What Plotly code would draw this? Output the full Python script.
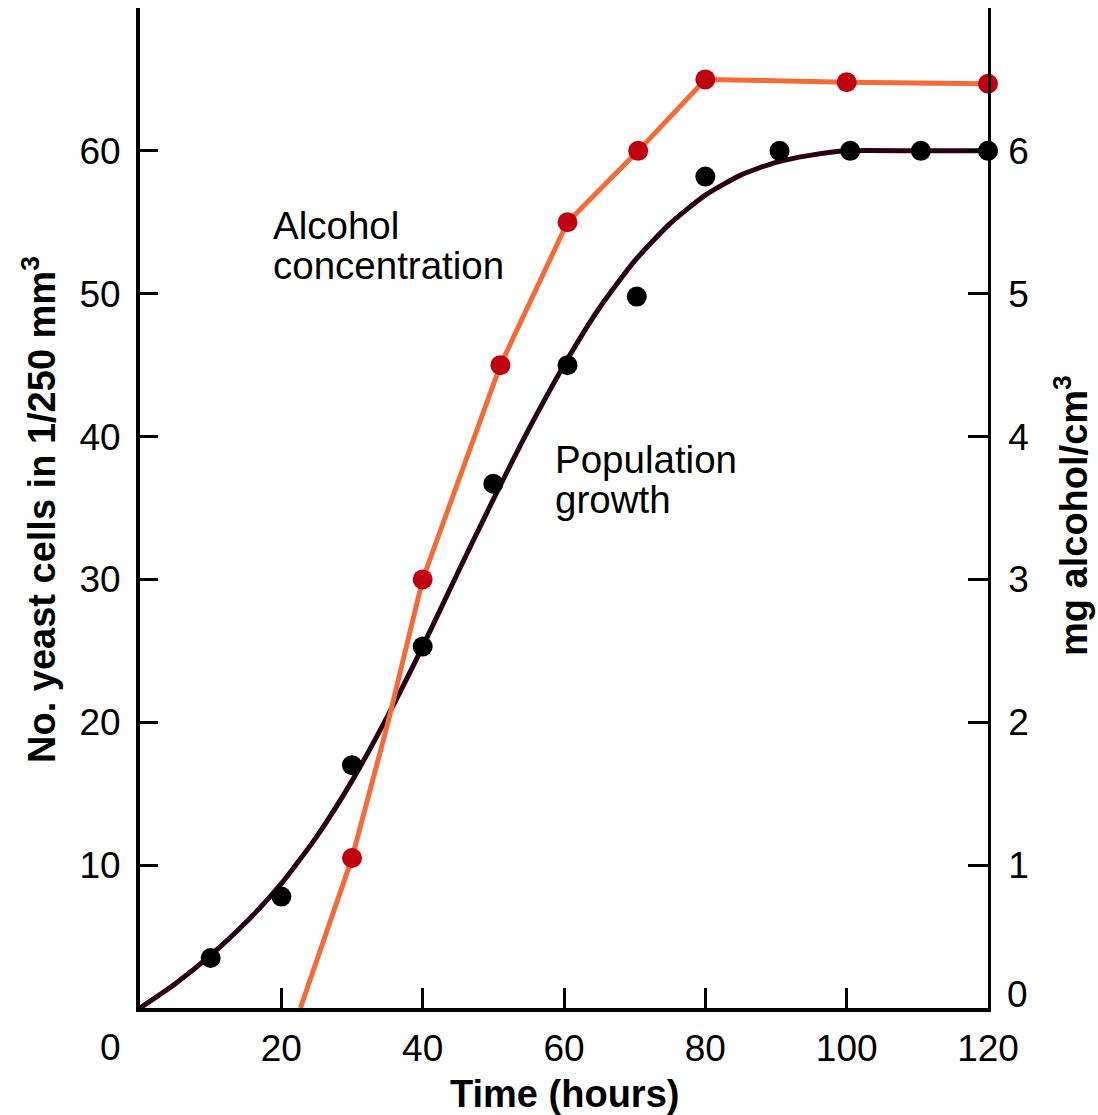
import plotly.graph_objects as go

# ---- data ----
pop_time = [10, 20, 30, 40, 50, 60.5, 70.3, 80, 90.5, 100.5, 110.5, 120]
pop_cells = [3.5, 7.8, 17.0, 25.3, 36.7, 45.0, 49.8, 58.2, 60.0, 60.0, 60.0, 60.0]

# smooth fitted growth curve
curve_time = [0, 5, 10, 15, 20, 25, 30, 35, 40, 45, 50, 55, 60, 65, 70,
              75, 80, 85, 90, 95, 100, 110, 120]
curve_cells = [0, 1.7, 3.7, 6.0, 8.7, 12.0, 15.9, 20.4, 25.3, 30.5, 35.6,
               40.5, 45.0, 49.0, 52.3, 54.9, 56.9, 58.3, 59.2, 59.7, 60.0,
               60.0, 60.0]

alc_time = [30, 40, 51, 60.5, 70.5, 80, 100, 120]
alc_mg = [1.05, 3.0, 4.5, 5.5, 6.0, 6.5, 6.48, 6.47]

# drawn alcohol line (starts at the time axis)
alc_line_time = [22.7, 30, 35, 40, 51, 60.5, 70.5, 80, 100, 120]
alc_line_mg = [0, 1.05, 1.98, 3.0, 4.5, 5.5, 6.0, 6.5, 6.48, 6.47]

x_ticks = [20, 40, 60, 80, 100, 120]
y_ticks = [10, 20, 30, 40, 50, 60]
y2_ticks = [1, 2, 3, 4, 5, 6]

FONT = "Liberation Sans, Arial, Helvetica, sans-serif"
ORANGE = "#F46B38"
RED = "#C00010"
DARK = "#2A0012"

fig = go.Figure()

fig.add_trace(go.Scatter(
    x=curve_time, y=curve_cells, mode="lines",
    line=dict(color=DARK, width=5, shape="spline", smoothing=0.6),
    cliponaxis=False, hoverinfo="skip", showlegend=False))

fig.add_trace(go.Scatter(
    x=alc_line_time, y=alc_line_mg, mode="lines", yaxis="y2",
    line=dict(color=ORANGE, width=5),
    cliponaxis=False, hoverinfo="skip", showlegend=False))

fig.add_trace(go.Scatter(
    x=pop_time, y=pop_cells, mode="markers",
    marker=dict(color="black", size=20),
    cliponaxis=False, showlegend=False))

fig.add_trace(go.Scatter(
    x=alc_time, y=alc_mg, mode="markers", yaxis="y2",
    marker=dict(color=RED, size=20),
    cliponaxis=False, showlegend=False))

tickfont = dict(family=FONT, size=37, color="black")
titlefont = dict(family=FONT, size=38, color="black")

fig.update_layout(
    width=1098, height=1115,
    margin=dict(l=140, r=110, t=8, b=107),
    plot_bgcolor="white", paper_bgcolor="white",
    showlegend=False,
    xaxis=dict(range=[0, 120], tickvals=x_ticks, ticks="inside", ticklen=20,
               tickwidth=2.5, tickcolor="black", showline=True, linewidth=4,
               linecolor="black", showgrid=False, zeroline=False,
               tickfont=tickfont, ticklabelstandoff=5),
    yaxis=dict(range=[0, 70], tickvals=y_ticks, ticks="inside", ticklen=18,
               tickwidth=2.5, tickcolor="black", showline=True, linewidth=4,
               linecolor="black", showgrid=False, zeroline=False,
               tickfont=tickfont, ticklabelstandoff=8),
    yaxis2=dict(range=[0, 7], tickvals=y2_ticks, overlaying="y", side="right",
                ticks="inside", ticklen=20, tickwidth=2.5, tickcolor="black",
                showline=True, linewidth=2.5, linecolor="black",
                showgrid=False, zeroline=False, tickfont=tickfont,
                ticklabelstandoff=10),
)

ann = []
# origin labels
ann.append(dict(x=0, y=0, xref="x", yref="y", text="0", showarrow=False,
                xanchor="center", yanchor="middle",
                xshift=-30, yshift=-39, font=tickfont))
ann.append(dict(x=120, y=0, xref="x", yref="y2", text="0", showarrow=False,
                xanchor="center", yanchor="middle",
                xshift=29, yshift=14, font=tickfont))
# axis titles
ann.append(dict(x=0, y=0.498, xref="paper", yref="paper", xshift=-101,
                xanchor="center", yanchor="middle",
                text="<b>No. yeast cells in 1/250 mm<sup>3</sup></b>",
                textangle=-90, showarrow=False, font=titlefont))
ann.append(dict(x=1, y=0.492, xref="paper", yref="paper", xshift=83,
                xanchor="center", yanchor="middle",
                text="<b>mg alcohol/cm<sup>3</sup></b>",
                textangle=-90, showarrow=False, font=titlefont))
ann.append(dict(x=0.5, y=0, xref="paper", yref="paper", yshift=-86,
                xanchor="center", yanchor="middle",
                text="<b>Time (hours)</b>", showarrow=False, font=titlefont))
# series labels
lab = dict(family=FONT, size=38.5, color="black")
ann.append(dict(x=18.5, y=54.8, xref="x", yref="y", text="Alcohol",
                xanchor="left", yanchor="middle", showarrow=False, font=lab))
ann.append(dict(x=18.5, y=52.0, xref="x", yref="y", text="concentration",
                xanchor="left", yanchor="middle", showarrow=False, font=lab))
ann.append(dict(x=58.5, y=38.4, xref="x", yref="y", text="Population",
                xanchor="left", yanchor="middle", showarrow=False, font=lab))
ann.append(dict(x=58.5, y=35.6, xref="x", yref="y", text="growth",
                xanchor="left", yanchor="middle", showarrow=False, font=lab))
fig.update_layout(annotations=ann)

fig.write_html("out.html")
